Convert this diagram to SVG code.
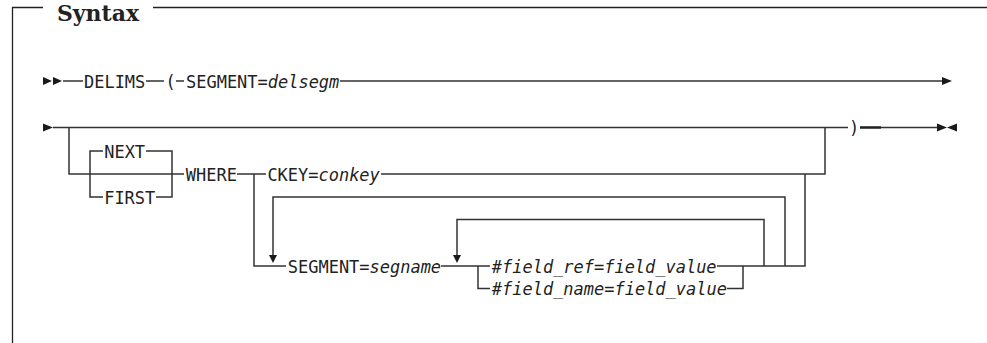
<svg xmlns="http://www.w3.org/2000/svg" width="987" height="343" viewBox="0 0 987 343">
<style>
.t{font-family:"DejaVu Sans Mono","Liberation Mono",monospace;font-size:18.5px;fill:#222}
.i{font-style:italic}
.c{fill:none;stroke:#333;stroke-width:1.5}
.a{fill:#1a1a1a}
.f{fill:none;stroke:#222;stroke-width:1.3}
.h{font-family:"DejaVu Serif","Liberation Serif",serif;font-weight:bold;font-size:21.5px;fill:#222}
</style>
<rect width="987" height="343" fill="#fff"/>
<g id="frame">
<path class="f" d="M12.5 343V7.5H43M153 7.5H987"/>
<text class="h" x="57" y="20.5" textLength="82" lengthAdjust="spacingAndGlyphs">Syntax</text>
</g>
<g id="connectors">
<path class="c" d="M63 81H83M146 81H164M176 81H184M340 81H942"/>
<path class="c" d="M53 127.5H848M860 127.5H937"/>
<path fill="none" stroke="#222" stroke-width="2.4" d="M860 127.5H881"/>
<path class="c" d="M69 127.5V174H184M103 151H90V197H103M146 151H172V197H156M237 174H266M381 174H825V127.5"/>
<path class="c" d="M254 174V266H286M785 266V197H273V256M441 266H490M717 266H805V174M764 266V219.5H457V256M478 266V288.5H490M727 288.5H743V266"/>
<polygon class="a" points="43,77 52,81 43,85"/>
<polygon class="a" points="53,77 62,81 53,85"/>
<polygon class="a" points="942,77 952,81 942,85"/>
<polygon class="a" points="43,123.5 53,127.5 43,131.5"/>
<polygon class="a" points="937,123.5 947,127.5 937,131.5"/>
<polygon class="a" points="957,123.5 947,127.5 957,131.5"/>
<polygon class="a" points="269,255 277,255 273,263"/>
<polygon class="a" points="453,255 461,255 457,263"/>
</g>
<g id="delims"><text class="t" x="84" y="87.5" textLength="61.3" lengthAdjust="spacingAndGlyphs">DELIMS</text></g>
<g id="paren-open"><text class="t" x="165.6" y="87.5" textLength="10.2" lengthAdjust="spacingAndGlyphs">(</text></g>
<g id="segment-delsegm"><text class="t" x="186" y="87.5" textLength="153.3" lengthAdjust="spacingAndGlyphs">SEGMENT=<tspan class="i">delsegm</tspan></text></g>
<g id="paren-close"><text class="t" x="849" y="134" textLength="10.2" lengthAdjust="spacingAndGlyphs">)</text></g>
<g id="next"><text class="t" x="104.2" y="157.5" textLength="40.9" lengthAdjust="spacingAndGlyphs">NEXT</text></g>
<g id="first"><text class="t" x="104.2" y="203.5" textLength="51.1" lengthAdjust="spacingAndGlyphs">FIRST</text></g>
<g id="where"><text class="t" x="185.8" y="180.5" textLength="51.1" lengthAdjust="spacingAndGlyphs">WHERE</text></g>
<g id="ckey"><text class="t" x="267.4" y="180.5" textLength="112.4" lengthAdjust="spacingAndGlyphs">CKEY=<tspan class="i">conkey</tspan></text></g>
<g id="segment"><text class="t" x="287.8" y="272.5" textLength="153.3" lengthAdjust="spacingAndGlyphs">SEGMENT=<tspan class="i">segname</tspan></text></g>
<g id="field-ref"><text class="t i" x="491.8" y="272.5" textLength="224.8" lengthAdjust="spacingAndGlyphs">#field_ref=field_value</text></g>
<g id="field-name"><text class="t i" x="491.8" y="295" textLength="235.1" lengthAdjust="spacingAndGlyphs">#field_name=field_value</text></g>
</svg>
